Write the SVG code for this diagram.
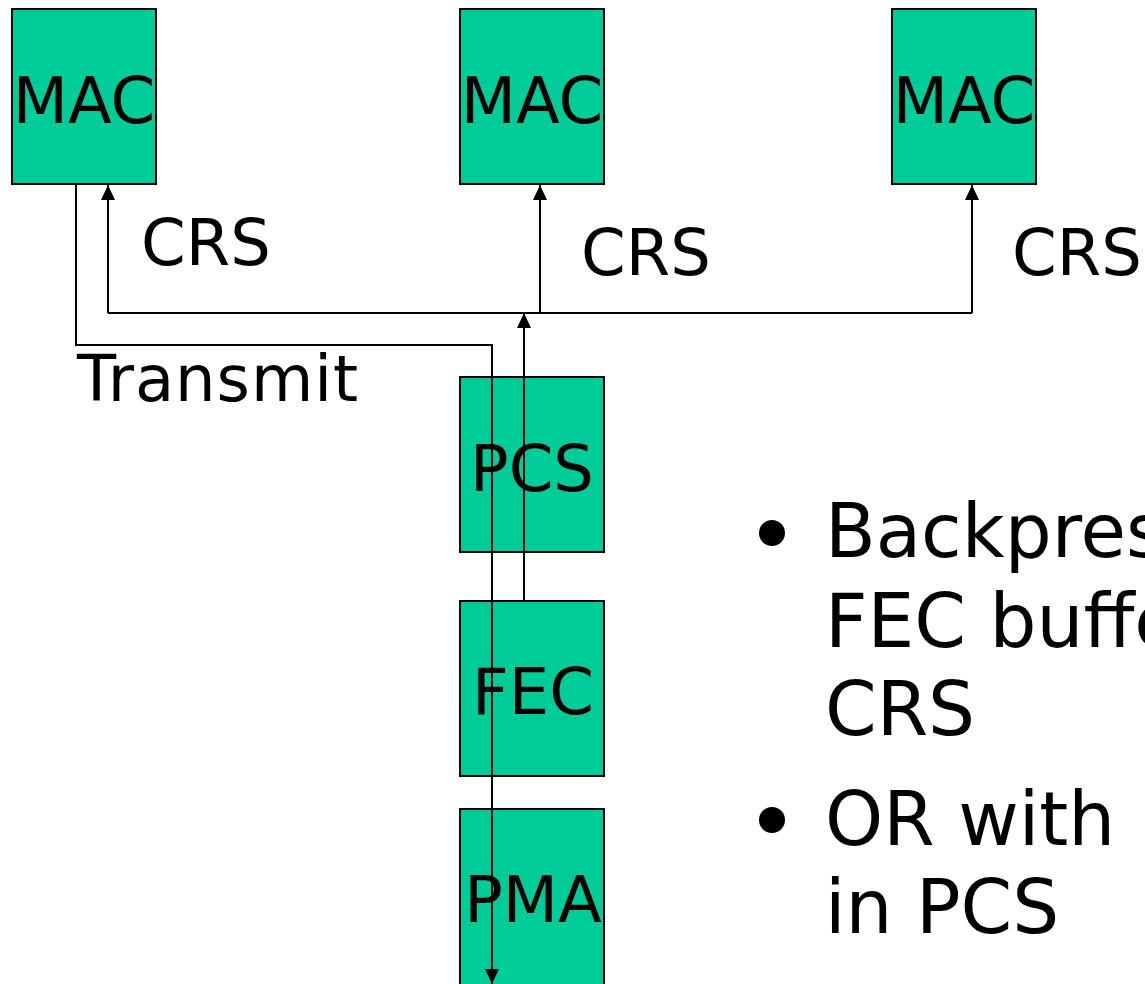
<svg xmlns="http://www.w3.org/2000/svg" width="1145" height="984" viewBox="0 0 1145 984">
<style>
.box{fill:#00CC99;stroke:#000;stroke-width:2}
.lbl{font-family:"DejaVu Sans",Verdana,sans-serif;font-size:64px;fill:#000}
.big{font-family:"DejaVu Sans",Verdana,sans-serif;font-size:74px;fill:#000}
.ln{fill:none;stroke:#000;stroke-width:2}
</style>
<defs>
<marker id="arr" viewBox="0 0 15 14" refX="15" refY="7" markerWidth="15" markerHeight="14" orient="auto" markerUnits="userSpaceOnUse">
<path d="M0,0 L15,7 L0,14 z" fill="#000"/>
</marker>
</defs>
<rect width="1145" height="984" fill="#fff"/>
<g id="mac1"><rect class="box" x="12" y="9" width="144" height="175"/><text class="lbl" x="84" y="123" text-anchor="middle">MAC</text></g>
<g id="mac2"><rect class="box" x="460" y="9" width="144" height="175"/><text class="lbl" x="532" y="123" text-anchor="middle">MAC</text></g>
<g id="mac3"><rect class="box" x="892" y="9" width="144" height="175"/><text class="lbl" x="964" y="123" text-anchor="middle">MAC</text></g>
<g id="pcs"><rect class="box" x="460" y="377" width="144" height="175"/><text class="lbl" x="532" y="491" text-anchor="middle">PCS</text></g>
<g id="fec"><rect class="box" x="460" y="601" width="144" height="175"/><text class="lbl" x="533" y="714" text-anchor="middle">FEC</text></g>
<g id="pma"><rect class="box" x="460" y="809" width="144" height="190"/><text class="lbl" x="533" y="922" text-anchor="middle">PMA</text></g>
<g id="connectors">
<polyline class="ln" points="76,184 76,345 492,345 492,984" marker-end="url(#arr)"/>
<polyline class="ln" points="108,313 972,313"/>
<line class="ln" x1="108" y1="313" x2="108" y2="185" marker-end="url(#arr)"/>
<line class="ln" x1="540" y1="313" x2="540" y2="185" marker-end="url(#arr)"/>
<line class="ln" x1="972" y1="313" x2="972" y2="185" marker-end="url(#arr)"/>
<line class="ln" x1="524" y1="601" x2="524" y2="313" marker-end="url(#arr)"/>
</g>
<g id="labels">
<text class="lbl" x="141" y="265">CRS</text>
<text class="lbl" x="581" y="275">CRS</text>
<text class="lbl" x="1012" y="275">CRS</text>
<text class="lbl" x="77" y="401" textLength="281" lengthAdjust="spacing">Transmit</text>
</g>
<g id="notes">
<circle cx="772" cy="533" r="13"/>
<circle cx="772" cy="820" r="13"/>
<text class="big" x="825" y="557">Backpressure</text>
<text class="big" x="825" y="647">FEC buffer</text>
<text class="big" x="825" y="735">CRS</text>
<text class="big" x="825" y="845">OR with</text>
<text class="big" x="825" y="933">in PCS</text>
</g>
</svg>
